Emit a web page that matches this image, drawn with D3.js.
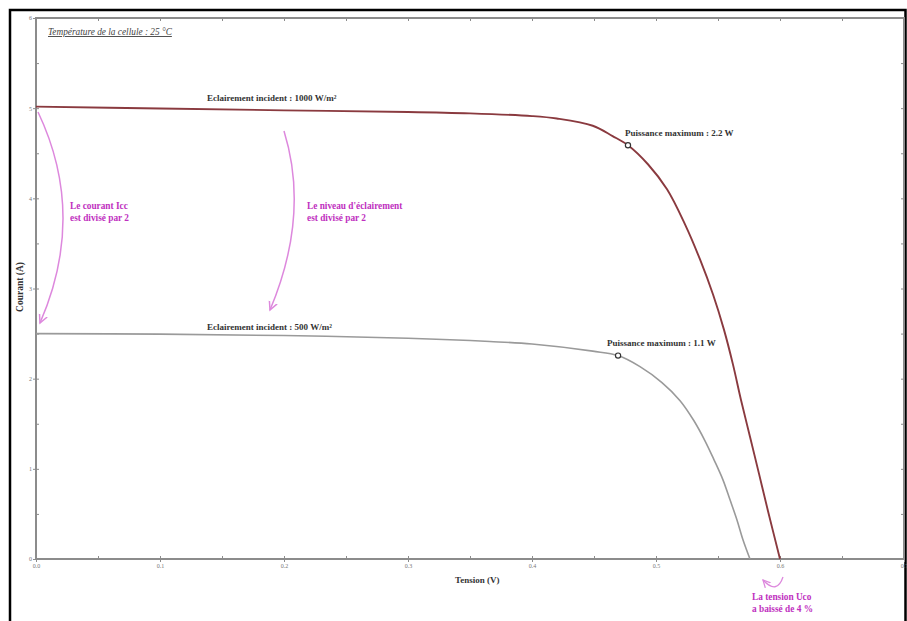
<!DOCTYPE html>
<html>
<head>
<meta charset="utf-8">
<script src="https://cdn.jsdelivr.net/npm/d3@7"></script>
<style>
body { margin: 0; background: #fff; }
text { font-family: "Liberation Serif", "DejaVu Serif", serif; }
</style>
</head>
<body>
<div id="chart"></div>
<script>
// I-V curves
var tension1000 = [0, 0.1, 0.2, 0.3, 0.35, 0.4, 0.42, 0.449, 0.465, 0.4774, 0.4935, 0.5089, 0.5234, 0.5355, 0.546, 0.5548, 0.5621, 0.5685, 0.5758, 0.5831, 0.5903, 0.6];
var courant1000 = [5.017, 4.996, 4.976, 4.958, 4.942, 4.912, 4.885, 4.805, 4.69, 4.589, 4.378, 4.1, 3.711, 3.322, 2.933, 2.544, 2.156, 1.767, 1.356, 0.944, 0.533, 0];
var tension500 = [0, 0.1, 0.2, 0.3, 0.366, 0.4, 0.449, 0.4694, 0.4871, 0.5048, 0.5194, 0.5306, 0.5395, 0.5468, 0.554, 0.5597, 0.5653, 0.5702, 0.5758];
var courant500 = [2.5, 2.494, 2.478, 2.448, 2.412, 2.384, 2.305, 2.256, 2.133, 1.956, 1.756, 1.533, 1.311, 1.1, 0.878, 0.656, 0.433, 0.211, 0];

var mppV = [0.4774, 0.4694];
var mppI = [4.589, 2.256];
var mppLabels = ["Puissance maximum : 2.2 W", "Puissance maximum : 1.1 W"];
var curveLabels = ["Eclairement incident : 1000 W/m²", "Eclairement incident : 500 W/m²"];

var xTicks = [0, 0.1, 0.2, 0.3, 0.4, 0.5, 0.6, 0.7];
var yTicks = [0, 1, 2, 3, 4, 5, 6];

(function () {
var width = 907, height = 621;
var svg = d3.select("#chart").append("svg")
    .attr("width", width)
    .attr("height", height);

// outer frame
svg.append("path")
    .attr("d", "M10,621 V10 H905.5 V621")
    .attr("fill", "none")
    .attr("stroke", "#000")
    .attr("stroke-width", 2.5);

var pLeft = 36, pRight = 904, pTop = 18, pBottom = 559;
var x = d3.scaleLinear().domain([0, 0.7]).range([pLeft, pRight]);
var y = d3.scaleLinear().domain([0, 6]).range([pBottom, pTop]);

var grey = "#8c8c8c";

// plot box
svg.append("rect")
    .attr("x", pLeft).attr("y", pTop)
    .attr("width", pRight - pLeft).attr("height", pBottom - pTop)
    .attr("fill", "none")
    .attr("stroke", grey)
    .attr("stroke-width", 2);

// ticks, major and minor, on all four sides
var xAll = d3.range(0, 15).map(function (i) { return i * 0.05; });
var yAll = d3.range(0, 13).map(function (i) { return i * 0.5; });
var plain = function (g) { g.select(".domain").remove(); g.selectAll("line").attr("stroke", grey); };

svg.append("g")
    .attr("transform", "translate(0," + pBottom + ")")
    .call(d3.axisBottom(x).tickValues(xAll).tickSize(-3).tickFormat(""))
    .call(plain);
svg.append("g")
    .attr("transform", "translate(0," + pTop + ")")
    .call(d3.axisTop(x).tickValues(xAll).tickSize(-3).tickFormat(""))
    .call(plain);
svg.append("g")
    .attr("transform", "translate(" + pLeft + ",0)")
    .call(d3.axisLeft(y).tickValues(yAll).tickSize(-3).tickFormat(""))
    .call(plain);
svg.append("g")
    .attr("transform", "translate(" + pRight + ",0)")
    .call(d3.axisRight(y).tickValues(yAll).tickSize(-3).tickFormat(""))
    .call(plain);

// tick labels
svg.append("g")
    .attr("transform", "translate(0," + pBottom + ")")
    .call(d3.axisBottom(x).tickValues(xTicks).tickSize(3).tickPadding(2).tickFormat(d3.format(".1f")))
    .call(function (g) {
        plain(g);
        g.selectAll("text").attr("fill", "#777").style("font-size", "6px")
            .style("font-family", "Liberation Serif");
    });
svg.append("g")
    .attr("transform", "translate(" + pLeft + ",0)")
    .call(d3.axisLeft(y).tickValues(yTicks).tickSize(3).tickPadding(1).tickFormat(d3.format("d")))
    .call(function (g) {
        plain(g);
        g.selectAll("text").attr("fill", "#777").style("font-size", "6px")
            .style("font-family", "Liberation Serif");
    });

// axis titles
svg.append("text")
    .attr("x", 455).attr("y", 583)
    .style("font-size", "9px").style("font-weight", "bold").attr("fill", "#333")
    .text("Tension (V)");
svg.append("text")
    .attr("transform", "translate(23,287) rotate(-90)")
    .attr("text-anchor", "middle")
    .style("font-size", "9.5px").style("font-weight", "bold").attr("fill", "#333")
    .text("Courant (A)");

svg.append("text")
    .attr("x", 48).attr("y", 35)
    .style("font-size", "9.3px").style("font-style", "italic")
    .style("text-decoration", "underline").attr("fill", "#444")
    .text("Température de la cellule : 25 °C");

// curves
var line = d3.line()
    .x(function (d) { return x(d[0]); })
    .y(function (d) { return y(d[1]); })
    .curve(d3.curveCatmullRom.alpha(0.5));

svg.append("path")
    .datum(d3.zip(tension500, courant500))
    .attr("d", line)
    .attr("fill", "none")
    .attr("stroke", "#9a9a9a")
    .attr("stroke-width", 1.6);

svg.append("path")
    .datum(d3.zip(tension1000, courant1000))
    .attr("d", line)
    .attr("fill", "none")
    .attr("stroke", "#8a3a3f")
    .attr("stroke-width", 1.9);

// curve labels
var labelPos = [[207, 101], [207, 330]];
svg.selectAll(".clabel")
    .data(curveLabels)
    .enter().append("text")
    .attr("class", "clabel")
    .attr("x", function (d, i) { return labelPos[i][0]; })
    .attr("y", function (d, i) { return labelPos[i][1]; })
    .style("font-size", "9px").style("font-weight", "bold").attr("fill", "#333")
    .text(function (d) { return d; });

// maximum power points
svg.selectAll(".mpp")
    .data(mppV)
    .enter().append("circle")
    .attr("cx", function (d) { return x(d); })
    .attr("cy", function (d, i) { return y(mppI[i]); })
    .attr("r", 2.6)
    .attr("fill", "#fff")
    .attr("stroke", "#333")
    .attr("stroke-width", 1.2);

var mppOffset = [[-3, -9], [-11, -10]];
svg.selectAll(".mlabel")
    .data(mppLabels)
    .enter().append("text")
    .attr("x", function (d, i) { return x(mppV[i]) + mppOffset[i][0]; })
    .attr("y", function (d, i) { return y(mppI[i]) + mppOffset[i][1]; })
    .style("font-size", "9px").style("font-weight", "bold").attr("fill", "#333")
    .text(function (d) { return d; });

// magenta annotations
var magenta = "#c030c0", arcCol = "#dd88dd";
var defs = svg.append("defs");
defs.append("marker")
    .attr("id", "head")
    .attr("viewBox", "0 0 10 10")
    .attr("refX", 8).attr("refY", 5)
    .attr("markerWidth", 7).attr("markerHeight", 7)
    .attr("orient", "auto")
    .append("path")
    .attr("d", "M0,1 L8,5 L0,9")
    .attr("fill", "none")
    .attr("stroke", arcCol)
    .attr("stroke-width", 1.4);

svg.append("path")
    .attr("d", "M38,112 Q87,215 40,323")
    .attr("fill", "none").attr("stroke", arcCol).attr("stroke-width", 1.5)
    .attr("marker-end", "url(#head)");
svg.append("path")
    .attr("d", "M284,131 Q310,215 270,310")
    .attr("fill", "none").attr("stroke", arcCol).attr("stroke-width", 1.5)
    .attr("marker-end", "url(#head)");
svg.append("path")
    .attr("d", "M783,577 Q777,595 763,580")
    .attr("fill", "none").attr("stroke", arcCol).attr("stroke-width", 1.3)
    .attr("marker-end", "url(#head)");

var notes = [
    { x: 70, y: 209, lines: ["Le courant Icc", "est divisé par 2"] },
    { x: 307, y: 209, lines: ["Le niveau d'éclairement", "est divisé par 2"] },
    { x: 752, y: 600, lines: ["La tension Uco", "a baissé de 4 %"] }
];
notes.forEach(function (n) {
    var t = svg.append("text")
        .attr("x", n.x).attr("y", n.y)
        .style("font-size", "9.3px").style("font-weight", "bold").attr("fill", magenta);
    t.selectAll("tspan").data(n.lines).enter().append("tspan")
        .attr("x", n.x)
        .attr("dy", function (d, i) { return i == 0 ? 0 : 12; })
        .text(function (d) { return d; });
});
})();
</script>
</body>
</html>
